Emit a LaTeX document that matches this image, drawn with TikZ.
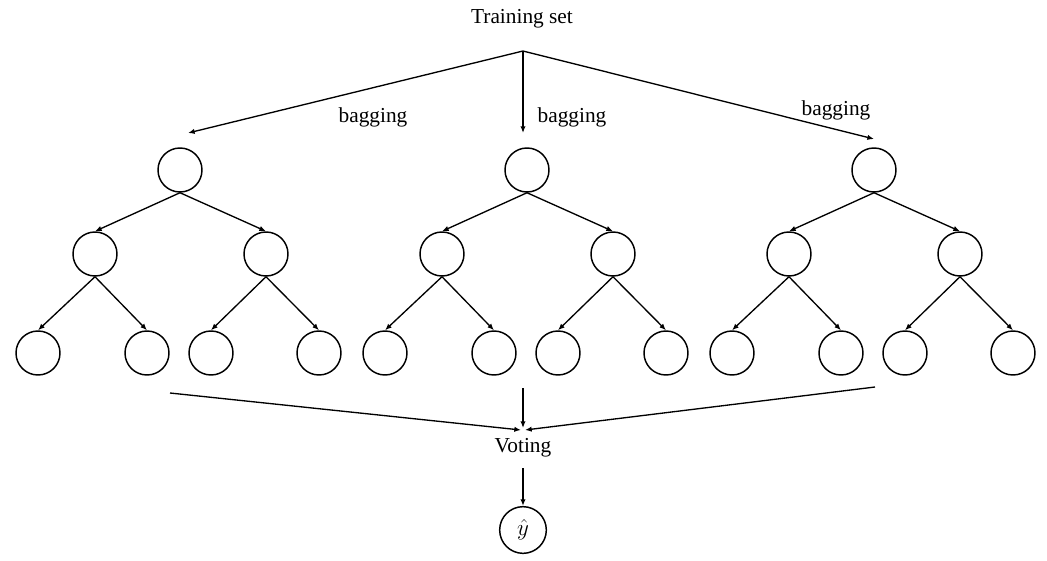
\documentclass[tikz,border=0pt]{standalone}
\usepackage{fontspec}
\setmainfont{Liberation Serif}
\usetikzlibrary{arrows.meta}
\tikzset{
  px/.style={x=0.75pt,y=-0.75pt},
  treenode/.style={circle,draw,line width=1.1pt,minimum size=33pt,inner sep=0pt},
  edge/.style={line width=1pt,-{Latex[length=5pt,width=4pt]}},
  lbl/.style={font=\fontsize{16}{18}\selectfont,inner sep=1pt}
}
\begin{document}
\begin{tikzpicture}[px]
\useasboundingbox (0,0) rectangle (1047,561);

% source of the three bootstrap samples
\node[lbl] (train) at (522,19) {Training set};
\coordinate (apex) at (523,51);
\coordinate (bag1) at (188,133);
\coordinate (bag2) at (523,133);
\coordinate (bag3) at (874,139);
\draw[edge] (apex) -- (bag1);
\draw[edge] (apex) -- (bag2);
\draw[edge] (apex) -- (bag3);
\node[lbl] (lb1) at (373,117) {bagging};
\node[lbl] (lb2) at (572,117) {bagging};
\node[lbl] (lb3) at (836,110) {bagging};

% three binary trees of depth two
\foreach \t/\dx in {1/0,2/347,3/694}{
  \node[treenode] (r\t) at (180+\dx,170) {};
  \node[treenode] (a\t) at (95+\dx,254) {};
  \node[treenode] (b\t) at (266+\dx,254) {};
  \node[treenode] (aa\t) at (38+\dx,353) {};
  \node[treenode] (ab\t) at (147+\dx,353) {};
  \node[treenode] (ba\t) at (211+\dx,353) {};
  \node[treenode] (bb\t) at (319+\dx,353) {};
  \draw[edge] (r\t.south) -- (a\t.north);
  \draw[edge] (r\t.south) -- (b\t.north);
  \draw[edge] (a\t.south) -- (aa\t.north);
  \draw[edge] (a\t.south) -- (ab\t.north);
  \draw[edge] (b\t.south) -- (ba\t.north);
  \draw[edge] (b\t.south) -- (bb\t.north);
}

% aggregation of the tree outputs
\coordinate (out1) at (170,393);
\coordinate (out2) at (523,388);
\coordinate (out3) at (875,387);
\coordinate (meetl) at (521,430);
\coordinate (meetm) at (523,428);
\coordinate (meetr) at (525,430);
\draw[edge] (out1) -- (meetl);
\draw[edge] (out2) -- (meetm);
\draw[edge] (out3) -- (meetr);
\node[lbl] (vote) at (523,448) {Voting};
\node[treenode,minimum width=33pt,minimum height=35pt,font=\fontsize{17}{18}\selectfont] (yhat) at (523,530) {$\hat{y}$};
\draw[edge] ([yshift=-7pt]vote.south) -- (yhat.north);
\end{tikzpicture}
\end{document}
